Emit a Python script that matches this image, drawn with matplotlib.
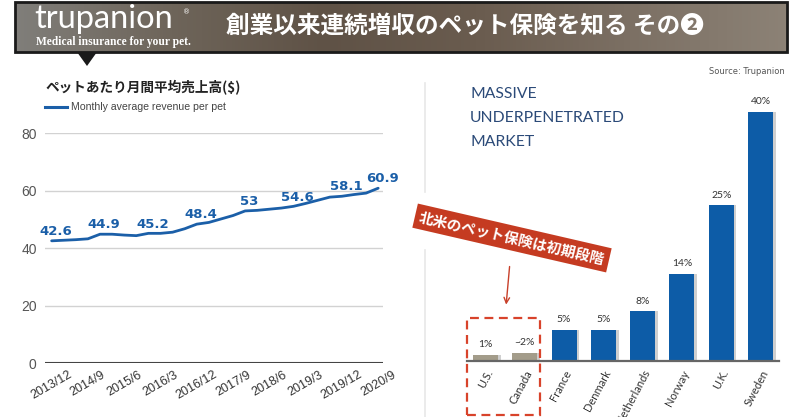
import matplotlib
matplotlib.use("Agg")
import matplotlib.pyplot as plt
import numpy as np
from matplotlib.colors import LinearSegmentedColormap
from matplotlib.patches import Rectangle, Polygon
from matplotlib.lines import Line2D

# left chart: monthly average revenue per pet (quarterly, 2013/12 .. 2020/9)
revenue = [42.6, 42.8, 43.0, 43.3, 44.9, 44.9, 44.6, 44.4, 45.2, 45.2, 45.6, 46.8,
           48.4, 49.0, 50.2, 51.4, 53.0, 53.2, 53.6, 54.0, 54.6, 55.6, 56.7, 57.8,
           58.1, 58.7, 59.2, 60.9]
tick_labels = ["2013/12", "2014/9", "2015/6", "2016/3", "2016/12",
               "2017/9", "2018/6", "2019/3", "2019/12", "2020/9"]
label_idx = [0, 4, 8, 12, 16, 20, 24, 27]
label_txt = ["42.6", "44.9", "45.2", "48.4", "53", "54.6", "58.1", "60.9"]

# right chart: pet insurance penetration by country
countries = ["U.S.", "Canada", "France", "Denmark", "Netherlands", "Norway", "U.K.", "Sweden"]
penetration = [1, 1.3, 5, 5, 8, 14, 25, 40]
pen_labels = ["1%", "~2%", "5%", "5%", "8%", "14%", "25%", "40%"]

W, H = 800, 417
fig = plt.figure(figsize=(W / 100, H / 100), dpi=100)
fig.patch.set_facecolor("white")


def px(x, y):
    return x / W, 1 - y / H


# ---- header banner ----
ax_b = fig.add_axes([15 / W, 1 - 52 / H, 772 / W, 50 / H])
cmap = LinearSegmentedColormap.from_list(
    "bn", ["#807e7a", "#6e655a", "#5f5246", "#6a5c4f", "#7c7064", "#8c8276"])
ax_b.imshow(np.linspace(0, 1, 256)[None, :], aspect="auto", cmap=cmap,
            extent=[0, 1, 0, 1])
ax_b.set_xlim(0, 1)
ax_b.set_ylim(0, 1)
ax_b.axis("off")
fig.patches.append(Rectangle(px(15, 52), 772 / W, 50 / H, transform=fig.transFigure,
                             fill=False, ec="#1a1a1a", lw=2))
fig.patches.append(Polygon([px(77, 52), px(97, 52), px(87, 66)], closed=True,
                           transform=fig.transFigure, fc="#1a1a1a", ec="none"))

fig.text(*px(34, 19), "trupanion", color="white", fontsize=23.5, family="Lato",
         ha="left", va="center")
fig.text(*px(183, 12), "®", color="white", fontsize=5, family="DejaVu Sans",
         ha="left", va="center")
fig.text(*px(36, 42), "Medical insurance for your pet.", color="white", fontsize=8.3,
         family="Liberation Serif", weight="bold", ha="left", va="center")
fig.text(*px(226, 26), "創業以来連続増収のペット保険を知る その❷", color="white",
         fontsize=17, family=["Noto Sans CJK JP", "DejaVu Sans"], weight="bold",
         ha="left", va="center")
fig.text(*px(785, 71), "Source: Trupanion", color="#555555", fontsize=6,
         family="Liberation Sans Narrow", ha="right", va="center")

# ---- left chart ----
ax = fig.add_axes([45 / W, 1 - 363.3 / H, 338 / W, 230 / H])
x = np.arange(len(revenue))
ax.plot(x, revenue, color="#1b5fa8", lw=2.0, solid_capstyle="round", zorder=3)
for i, t in zip(label_idx, label_txt):
    ax.annotate(t, (x[i], revenue[i]), xytext=(3, 2), textcoords="offset points",
                ha="center", va="bottom", color="#1b5fa8", fontsize=9.5,
                weight="bold", family="DejaVu Sans", zorder=4)
ax.set_xlim(-0.55, 27.4)
ax.set_ylim(0, 80)
ax.set_yticks([0, 20, 40, 60, 80])
ax.set_xticks(x[::3])
ax.set_xticklabels(tick_labels, rotation=30, ha="center", fontsize=9,
                   color="#333333", family="Liberation Sans")
for lab in ax.get_yticklabels():
    lab.set_fontsize(10)
    lab.set_color("#555555")
    lab.set_family("Liberation Sans")
ax.tick_params(length=0)
ax.tick_params(axis="y", pad=6)
ax.tick_params(axis="x", pad=4)
for s in ax.spines.values():
    s.set_visible(False)
for v in [20, 40, 60, 80]:
    ax.axhline(v, color="#d2d2d2", lw=1, zorder=1)
ax.axhline(0, color="#444444", lw=1.5, zorder=2)

fig.text(*px(45, 88), "ペットあたり月間平均売上高($)", color="#222222", fontsize=9.8,
         family="Noto Sans CJK JP", weight="bold", ha="left", va="center")
fig.lines.append(Line2D([45 / W, 67 / W], [1 - 107.3 / H] * 2, transform=fig.transFigure,
                        color="#1b5fa8", lw=2.2))
fig.text(*px(71, 107.3), "Monthly average revenue per pet", color="#444444",
         fontsize=7.6, family="Liberation Sans", ha="left", va="center")

# ---- right chart ----
fig.lines.append(Line2D([425 / W] * 2, [1 - 83 / H, 1 - 192 / H], transform=fig.transFigure,
                        color="#e8e8e8", lw=1.2))
fig.lines.append(Line2D([425 / W] * 2, [1 - 250 / H, 0], transform=fig.transFigure,
                        color="#e8e8e8", lw=1.2))

for i, line in enumerate(["MASSIVE", "UNDERPENETRATED", "MARKET"]):
    fig.text(*px(470, 93.5 + 24 * i), line, color="#2b4a78", fontsize=11.3,
             family="Lato", ha="left", va="center")

ax2 = fig.add_axes([467 / W, 1 - 361 / H, 312 / W, 280.5 / H])
xb = np.arange(len(countries))
colors = ["#a39c8a", "#a39c8a"] + ["#0d5ca7"] * 6
ax2.bar(xb + 0.07, penetration, width=0.636, color="#cfcfcf", zorder=1)
ax2.bar(xb, penetration, width=0.636, color=colors, zorder=2)
for xi, v, t in zip(xb, penetration, pen_labels):
    ax2.annotate(t, (xi, v), xytext=(0, 4), textcoords="offset points", ha="center",
                 va="bottom", fontsize=7.5, color="#333333", family="Lato")
ax2.set_xlim(-0.47, 7.47)
ax2.set_ylim(0, 45)
ax2.set_yticks([])
ax2.set_xticks(xb)
ax2.set_xticklabels(countries, rotation=62, ha="right", va="top", rotation_mode="anchor",
                    fontsize=8, color="#333333", family="Lato")
ax2.tick_params(length=0, pad=5)
for k in ["top", "right", "left"]:
    ax2.spines[k].set_visible(False)
ax2.spines["bottom"].set_color("#666666")
ax2.spines["bottom"].set_linewidth(1.6)

ax2.add_patch(Rectangle((-0.478, -8.6), 1.865, 15.45, fill=False, ec="#d8432b", lw=1.6,
                        ls=(0, (4, 2.5)), clip_on=False, zorder=5))
ax2.annotate("", xy=(0.52, 8.6), xytext=(0.62, 15.6),
             arrowprops=dict(arrowstyle="->", color="#c8402a", lw=1), annotation_clip=False)

fig.text(*px(512, 238), "北米のペット保険は初期段階", rotation=-13, color="white",
         fontsize=10.5, weight="bold", family="Noto Sans CJK JP", ha="center", va="center",
         rotation_mode="anchor",
         bbox=dict(boxstyle="square,pad=0.3", fc="#c53b21", ec="none"))

fig.savefig("out.png", dpi=100)
